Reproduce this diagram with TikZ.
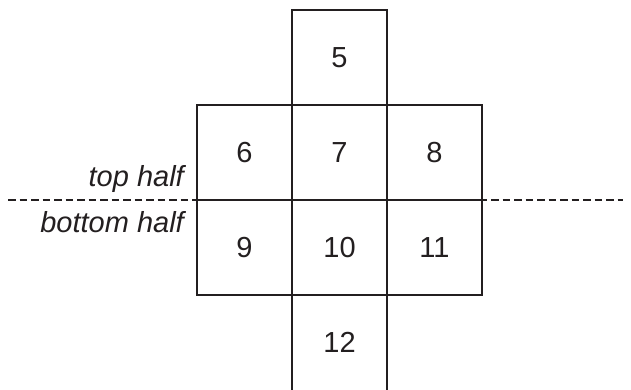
\documentclass[tikz,border=0pt]{standalone}
\usepackage{fontspec}
\setmainfont{Liberation Sans}
\usetikzlibrary{positioning}
\definecolor{Ink}{HTML}{231F20}

\begin{document}
\begin{tikzpicture}[x=1pt,y=1pt,
      cell/.style={draw=Ink,line width=2.6pt,minimum width=95pt,minimum height=95pt,
        inner sep=0pt,outer sep=0pt,text=Ink,font=\fontsize{29}{34}\selectfont},
      halfline/.style={draw=Ink,line width=1.2pt,dash pattern=on 7.5pt off 4pt},
      tag/.style={anchor=base east,inner sep=0pt,text=Ink,font=\fontsize{29}{34}\selectfont\itshape}
    ]
      \useasboundingbox (0,0) rectangle (631,390);
      \coordinate (cutL) at (8,190);
      \coordinate (cutR) at (623,190);
      \draw[halfline] (cutL) -- (cutR);
      \node[cell] (c7) at (339.5,237.5) {7};
      \node[cell,above=0pt of c7] (c5) {5};
      \node[cell,left=0pt of c7] (c6) {6};
      \node[cell,right=0pt of c7] (c8) {8};
      \node[cell,below=0pt of c7] (c10) {10};
      \node[cell,left=0pt of c10] (c9) {9};
      \node[cell,right=0pt of c10] (c11) {11};
      \node[cell,draw=none,below=0pt of c10] (c12) {12};
      \draw[Ink,line width=2.6pt] (c12.south west) -- (c12.north west)
        (c12.north east) -- (c12.south east);
      \node[tag] (top) at (184,203) {top half};
      \node[tag] (bottom) at (184,157) {bottom half};
    \end{tikzpicture}
\end{document}
